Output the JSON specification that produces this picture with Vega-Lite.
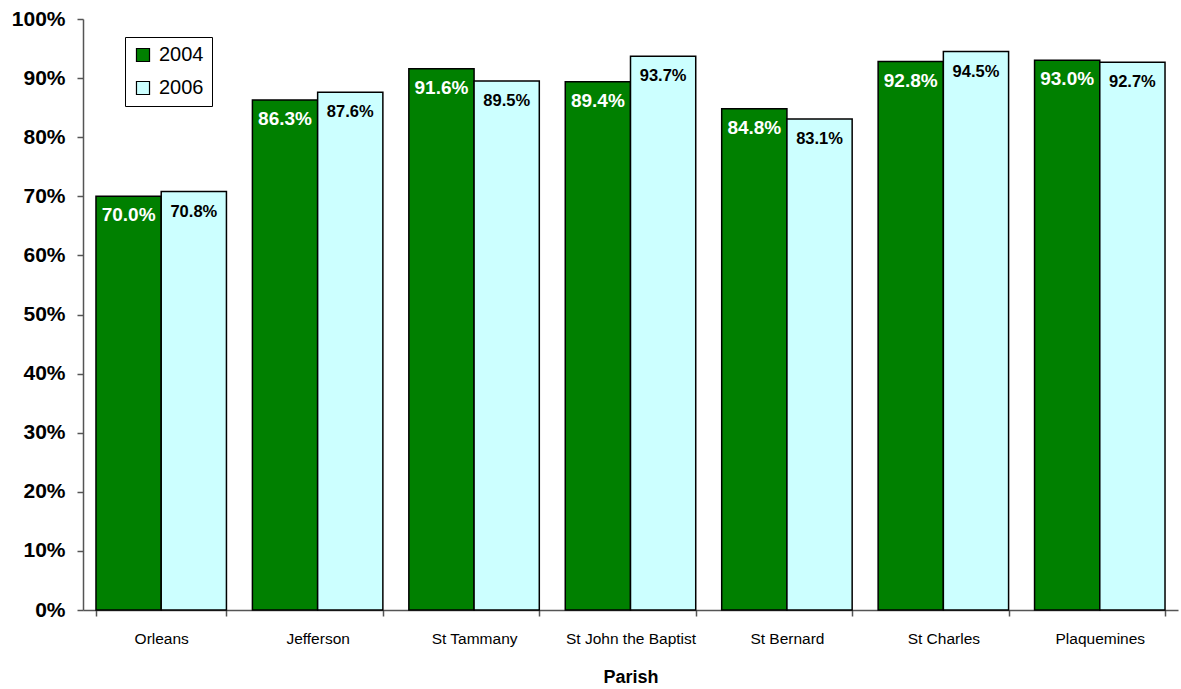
{
  "$schema": "https://vega.github.io/schema/vega-lite/v6.json",
  "width": 1095,
  "height": 591,
  "autosize": {"type": "none"},
  "padding": {"left": 83, "top": 19, "right": 3, "bottom": 79},
  "background": "white",
  "config": {"view": {"stroke": null}, "font": "Liberation Sans"},
  "data": {
    "values": [
      {"parish": "Orleans", "year": "2004", "value": 0.700},
      {"parish": "Orleans", "year": "2006", "value": 0.708},
      {"parish": "Jefferson", "year": "2004", "value": 0.863},
      {"parish": "Jefferson", "year": "2006", "value": 0.876},
      {"parish": "St Tammany", "year": "2004", "value": 0.916},
      {"parish": "St Tammany", "year": "2006", "value": 0.895},
      {"parish": "St John the Baptist", "year": "2004", "value": 0.894},
      {"parish": "St John the Baptist", "year": "2006", "value": 0.937},
      {"parish": "St Bernard", "year": "2004", "value": 0.848},
      {"parish": "St Bernard", "year": "2006", "value": 0.831},
      {"parish": "St Charles", "year": "2004", "value": 0.928},
      {"parish": "St Charles", "year": "2006", "value": 0.945},
      {"parish": "Plaquemines", "year": "2004", "value": 0.930},
      {"parish": "Plaquemines", "year": "2006", "value": 0.927}
    ]
  },
  "encoding": {
    "x": {
      "field": "parish", "type": "nominal", "sort": null,
      "scale": {"paddingInner": 0.166, "paddingOuter": 0.083},
      "axis": {
        "title": "Parish", "labelAngle": 0, "labelFontSize": 15.5,
        "labelColor": "black", "labelPadding": 15, "tickBand": "extent", "tickSize": 6,
        "tickColor": "#555555", "domainColor": "#555555", "domainWidth": 1.5, "tickWidth": 1.5,
        "titleFontSize": 18, "titleFontWeight": "bold", "titleColor": "black", "titlePadding": 22
      }
    },
    "xOffset": {"field": "year", "type": "nominal"},
    "y": {
      "field": "value", "type": "quantitative",
      "scale": {"domain": [0, 1]},
      "axis": {
        "title": null, "format": ".0%", "values": [0, 0.1, 0.2, 0.3, 0.4, 0.5, 0.6, 0.7, 0.8, 0.9, 1],
        "grid": false, "labelFontSize": 21, "labelFontWeight": "bold", "labelColor": "black",
        "labelPadding": 12, "tickSize": 6, "tickColor": "#555555", "domainColor": "#555555",
        "domainWidth": 1.5, "tickWidth": 1.5
      }
    }
  },
  "layer": [
    {
      "mark": {"type": "bar", "stroke": "black", "strokeWidth": 1.5},
      "encoding": {
        "color": {
          "field": "year", "type": "nominal",
          "scale": {"domain": ["2004", "2006"], "range": ["#008000", "#CCFFFF"]},
          "legend": {
            "title": null, "orient": "none", "legendX": 42, "legendY": 18,
            "symbolType": "square", "symbolSize": 170, "symbolStrokeColor": "black", "symbolStrokeWidth": 1.2,
            "labelFontSize": 20, "labelColor": "black", "rowPadding": 13, "padding": 8,
            "strokeColor": "black", "fillColor": "white", "labelOffset": 6
          }
        }
      }
    },
    {
      "transform": [{"filter": "datum.year === '2004'"}],
      "mark": {"type": "text", "baseline": "middle", "dy": 19, "fontSize": 19, "fontWeight": "bold", "color": "white"},
      "encoding": {"text": {"field": "value", "type": "quantitative", "format": ".1%"}}
    },
    {
      "transform": [{"filter": "datum.year === '2006'"}],
      "mark": {"type": "text", "baseline": "middle", "dy": 20, "fontSize": 16.5, "fontWeight": "bold", "color": "black"},
      "encoding": {"text": {"field": "value", "type": "quantitative", "format": ".1%"}}
    }
  ]
}
